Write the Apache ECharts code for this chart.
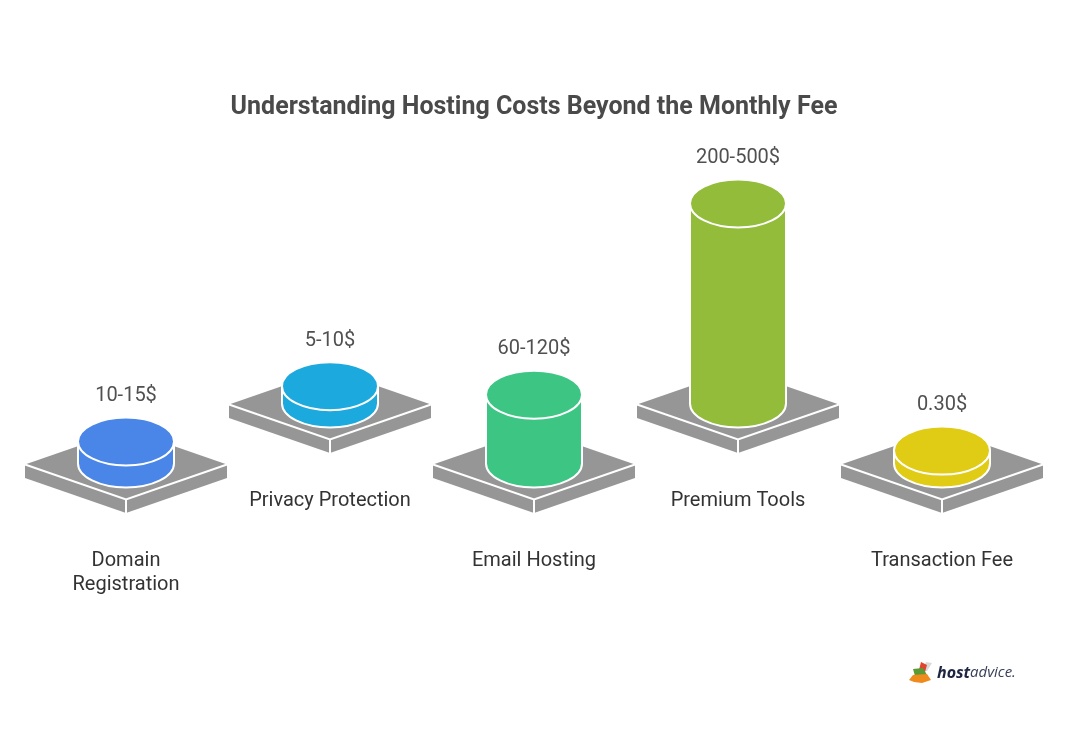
<!DOCTYPE html>
<html>
<head>
<meta charset="utf-8">
<style>html,body{margin:0;padding:0;background:#fff}#chart{width:1068px;height:731px}</style>
<script src="https://cdn.jsdelivr.net/npm/echarts@6/dist/echarts.min.js"></script>
</head>
<body>
<div id="chart"></div>
<script>
// Hosting add-on costs: one cylinder per fee, height follows the low end of its range.
const categories = ['Domain\nRegistration', 'Privacy Protection', 'Email Hosting', 'Premium Tools', 'Transaction Fee'];
const lowCosts = [10, 5, 60, 200, 0.3];
const costLabels = ['10-15$', '5-10$', '60-120$', '200-500$', '0.30$'];
const colors = ['#4A86E8', '#1CA9DD', '#3CC583', '#92BC39', '#E0CB15'];

const PLATE_W = 101, PLATE_D = 35, PLATE_T = 13.5, RX = 48, RY = 24;
const ROW_SHIFT = 60;   // every second column sits one row further back
const GREY = '#969696';

function renderColumn(params, api) {
  const i = api.value(0);
  const cx = api.coord([i, 0])[0];
  const floorY = params.coordSys.y + params.coordSys.height;
  const shift = i % 2 === 1 ? ROW_SHIFT : 0;
  const py = floorY - shift + 0.5;        // plate centre
  const baseY = floorY - shift - 0.5;     // centre of the cylinder foot
  const h = floorY - api.coord([i, api.value(1)])[1];
  const topY = baseY - h;
  const white = { stroke: '#fff', lineWidth: 2, fill: null };
  const color = colors[i];
  return {
    type: 'group',
    children: [
      { type: 'polygon', shape: { points: [[cx - PLATE_W, py], [cx, py - PLATE_D], [cx + PLATE_W, py], [cx + PLATE_W, py + PLATE_T], [cx, py + PLATE_D + PLATE_T], [cx - PLATE_W, py + PLATE_T]] }, style: { fill: GREY } },
      { type: 'polyline', shape: { points: [[cx - PLATE_W, py], [cx, py + PLATE_D], [cx + PLATE_W, py]] }, style: white },
      { type: 'line', shape: { x1: cx, y1: py + PLATE_D, x2: cx, y2: py + PLATE_D + PLATE_T }, style: { stroke: '#fff', lineWidth: 2 } },
      { type: 'path', shape: { pathData: `M${cx - RX} ${topY} L${cx - RX} ${baseY} A${RX} ${RY} 0 0 0 ${cx + RX} ${baseY} L${cx + RX} ${topY} Z` }, style: { fill: color, stroke: '#fff', lineWidth: 2 } },
      { type: 'ellipse', shape: { cx: cx, cy: topY, rx: RX, ry: RY }, style: { fill: color, stroke: '#fff', lineWidth: 2 } },
      { type: 'text', style: { text: costLabels[i], x: cx, y: topY - RY - 21.5, align: 'center', verticalAlign: 'middle', fill: '#505050', font: '20px Roboto' } },
      { type: 'text', style: { text: categories[i], x: cx, y: py + 84.5, align: 'center', verticalAlign: 'top', fill: '#333', font: '20px Roboto', lineHeight: 24 } }
    ]
  };
}

const chart = echarts.init(document.getElementById('chart'), null, { renderer: 'canvas' });
chart.setOption({
  animation: false,
  backgroundColor: '#fff',
  title: {
    text: 'Understanding Hosting Costs Beyond the Monthly Fee',
    left: 'center', top: 90,
    textStyle: { fontFamily: 'Roboto', fontWeight: 700, fontSize: 25, color: '#4a4a4a' }
  },
  grid: { left: 24, width: 1020, top: 264, height: 200 },
  xAxis: { type: 'category', data: categories, show: false },
  yAxis: { type: 'value', min: -13.5, max: 200, show: false },
  series: [{
    type: 'custom',
    clip: false,
    renderItem: renderColumn,
    data: lowCosts.map((v, i) => [i, v])
  }],
  graphic: [
    // brand mark, lower right
    { type: 'polygon', shape: { points: [[926, 662], [932, 663], [927, 671], [922, 671]] }, style: { fill: '#d9d9d9' } },
    { type: 'polygon', shape: { points: [[921, 662], [927, 665], [925, 672], [919, 670]] }, style: { fill: '#e0452f' } },
    { type: 'polygon', shape: { points: [[913, 669], [923, 668], [927, 675], [915, 676]] }, style: { fill: '#5a9a35' } },
    { type: 'polygon', shape: { points: [[909, 680], [913, 675], [927, 674], [931, 680], [922, 683], [914, 682]] }, style: { fill: '#ef8a1d' } },
    { type: 'text', left: 937, top: 665, style: { text: 'host', fill: '#1d2540', font: 'italic 700 16px "Open Sans"' } },
    { type: 'text', left: 970, top: 665, style: { text: 'advice.', fill: '#3a4058', font: 'italic 400 15px "Open Sans"' } }
  ]
});
</script>
</body>
</html>
